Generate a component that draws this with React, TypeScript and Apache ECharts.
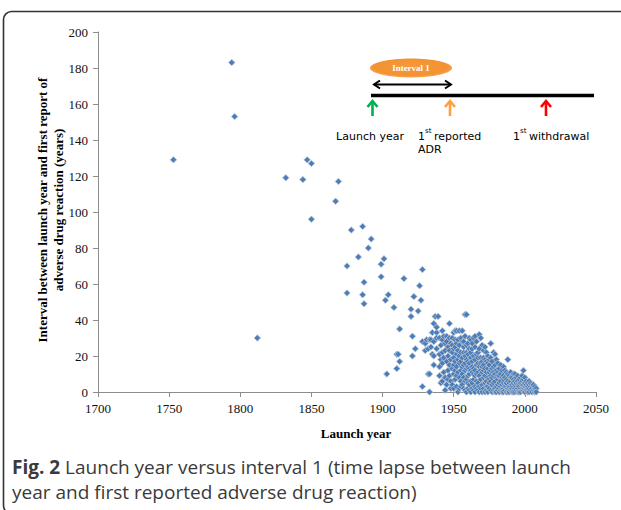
import React, { useEffect, useRef } from "react";
import * as echarts from "echarts";

// [launch year, interval (years)]
const earlyDrugs: [number, number][] = [
  [1753, 129], [1794, 183], [1796, 153], [1812, 30], [1832, 119], [1844, 118],
  [1847, 129], [1850, 127], [1850, 96], [1867, 106], [1869, 117], [1875, 70],
  [1875, 55], [1878, 90], [1883, 75], [1886, 92], [1886, 54], [1887, 61],
  [1887, 49], [1890, 80], [1892, 85], [1899, 71], [1899, 64],
];

const midDrugs: [number, number][] = [
  [1901, 74], [1902, 51], [1903, 10], [1904, 54], [1908, 47], [1910, 21],
  [1910, 13], [1911, 21], [1912, 35], [1912, 17], [1915, 63], [1920, 46],
  [1920, 42], [1921, 31], [1921, 20], [1922, 53], [1923, 24], [1925, 45],
  [1926, 59], [1927, 51], [1928, 68], [1928, 3], [1928, 28], [1930, 27],
  [1930, 23], [1931, 29], [1932, 24], [1932, 10], [1933, 0], [1933, 10],
  [1933, 29], [1934, 25], [1934, 29], [1935, 21], [1935, 33], [1936, 38],
  [1936, 28], [1936, 20], [1936, 15], [1937, 42], [1938, 33], [1938, 36],
  [1938, 30], [1938, 24], [1939, 42],
];

// launch year -> intervals of drugs launched that year
const modernDrugs: [number, number[]][] = [
  [1940, [21, 9, 14, 30]],
  [1941, [26, 5, 18]],
  [1942, [34, 29, 6, 16, 22]],
  [1943, [31, 11, 19]],
  [1944, [23, 8, 27, 1]],
  [1945, [31, 28, 17, 4]],
  [1946, [25, 12, 20, 7]],
  [1947, [38, 30, 15, 9, 23]],
  [1948, [27, 6, 18, 2]],
  [1949, [30, 22, 13, 4, 26]],
  [1950, [33, 19, 10, 2, 15, 24]],
  [1951, [34, 25, 17, 7, 12, 29]],
  [1952, [34, 21, 14, 3, 9, 27]],
  [1953, [29, 18, 11, 0, 23]],
  [1954, [34, 26, 16, 8, 2, 20]],
  [1955, [30, 22, 12, 6, 17, 3]],
  [1956, [34, 28, 19, 10, 4, 14]],
  [1957, [28, 22, 15, 8, 2, 25]],
  [1958, [43, 31, 20, 12, 6, 16, 1]],
  [1959, [43, 26, 18, 13, 7, 22, 0]],
  [1960, [27, 21, 14, 9, 2, 17, 5]],
  [1961, [30, 24, 16, 10, 4, 13, 1]],
  [1962, [29, 19, 12, 6, 0, 22]],
  [1963, [24, 17, 11, 2, 14, 5, 27]],
  [1964, [30, 20, 13, 7, 1, 10]],
  [1965, [31, 25, 18, 9, 3, 12, 0]],
  [1966, [28, 21, 15, 10, 2, 6]],
  [1967, [22, 16, 11, 5, 1, 19]],
  [1968, [32, 24, 14, 9, 3, 0]],
  [1969, [30, 19, 12, 7, 2, 16]],
  [1970, [26, 17, 11, 4, 14, 0]],
  [1971, [23, 15, 8, 2, 12, 19]],
  [1972, [25, 18, 9, 5, 0, 13]],
  [1973, [22, 17, 11, 6, 1, 3]],
  [1974, [20, 13, 8, 3, 0, 16]],
  [1975, [15, 11, 7, 2, 18, 5]],
  [1976, [27, 19, 12, 6, 1, 9]],
  [1977, [17, 13, 8, 4, 0]],
  [1978, [22, 14, 9, 5, 1, 11]],
  [1979, [21, 15, 10, 6, 2, 0]],
  [1980, [18, 12, 8, 3, 0]],
  [1981, [16, 11, 7, 4, 1, 9]],
  [1982, [13, 9, 5, 2, 0]],
  [1983, [15, 10, 6, 3, 1]],
  [1984, [12, 8, 4, 1, 0]],
  [1985, [14, 9, 5, 2, 0, 7]],
  [1986, [12, 8, 4, 1, 3]],
  [1987, [11, 7, 3, 0, 5]],
  [1988, [18, 10, 6, 2, 0]],
  [1989, [9, 5, 2, 0, 3]],
  [1990, [11, 6, 3, 1, 8]],
  [1991, [8, 4, 1, 2, 0]],
  [1992, [10, 7, 3, 0, 5]],
  [1993, [10, 6, 2, 4, 0]],
  [1994, [8, 5, 1, 3]],
  [1995, [9, 6, 2, 0, 4]],
  [1996, [7, 4, 1, 3, 0]],
  [1997, [8, 5, 2, 0]],
  [1998, [9, 6, 3, 1, 4]],
  [1999, [12, 7, 4, 1, 2]],
  [2000, [8, 5, 2, 0, 3]],
  [2001, [6, 3, 1, 4]],
  [2002, [5, 3, 1, 0]],
  [2003, [6, 4, 2, 0]],
  [2004, [5, 3, 1]],
  [2005, [4, 2, 0]],
  [2006, [3, 1, 4]],
  [2007, [3, 1, 0]],
  [2008, [2, 0]],
];

const xTitle = "Launch year";
const yTitleLines = [
  "Interval between launch year and first report of",
  "adverse drug reaction (years)",
];
const captionBold = "Fig. 2";
const captionLine1 = " Launch year versus interval 1 (time lapse between launch";
const captionLine2 = "year and first reported adverse drug reaction)";

export default function App() {
  const ref = useRef<HTMLDivElement>(null);

  useEffect(() => {
    if (!ref.current) return;
    const chart = echarts.init(ref.current, undefined, { renderer: "svg" });

    const points: [number, number][] = [...earlyDrugs, ...midDrugs];
    modernDrugs.forEach(([yr, vals]) => vals.forEach((v) => points.push([yr, v])));

    const serif = "Liberation Serif";
    const hand = "DejaVu Sans";
    const axisColor = "#8c8c8c";

    const upArrow = (x: number, color: string) => ({
      type: "group",
      children: [
        {
          type: "line",
          shape: { x1: x, y1: 116, x2: x, y2: 101 },
          style: { stroke: color, lineWidth: 2.6 },
        },
        {
          type: "polyline",
          shape: { points: [[x - 5, 107], [x, 101], [x + 5, 107]] },
          style: { stroke: color, lineWidth: 2.6, fill: null },
        },
      ],
    });

    const axisLabel = {
      fontFamily: serif,
      fontSize: 13,
      color: "#111",
      margin: 10,
      formatter: (v: number) => String(v),
    };

    chart.setOption({
      animation: false,
      backgroundColor: "#ffffff",
      grid: { left: 98, right: 25, top: 32, bottom: 118, containLabel: false },
      xAxis: {
        type: "value",
        min: 1700,
        max: 2050,
        interval: 50,
        splitLine: { show: false },
        axisLine: { show: true, onZero: false, lineStyle: { color: axisColor, width: 1 } },
        axisTick: { show: true, length: 5, lineStyle: { color: axisColor } },
        axisLabel,
      },
      yAxis: {
        type: "value",
        min: 0,
        max: 200,
        interval: 20,
        splitLine: { show: false },
        axisLine: { show: true, lineStyle: { color: axisColor, width: 1 } },
        axisTick: { show: true, length: 5, lineStyle: { color: axisColor } },
        axisLabel,
      },
      series: [
        {
          type: "scatter",
          data: points,
          symbol: "diamond",
          symbolSize: 6.5,
          itemStyle: {
            color: "#4A7EBB",
            borderColor: "#BCC3CE",
            borderWidth: 0.8,
            opacity: 1,
          },
        },
      ],
      graphic: [
        // frame
        {
          type: "rect",
          shape: { x: 3.5, y: 11.5, width: 700, height: 502, r: 8 },
          style: { fill: null, stroke: "#333", lineWidth: 1.6 },
          silent: true,
        },
        // axis titles
        {
          type: "text",
          x: 356,
          y: 433,
          style: {
            text: xTitle,
            font: `bold 13px ${serif}`,
            fill: "#000",
            align: "center",
            verticalAlign: "middle",
          },
        },
        {
          type: "text",
          x: 50,
          y: 210,
          rotation: Math.PI / 2,
          style: {
            text: yTitleLines.join("\n"),
            font: `bold 13px ${serif}`,
            lineHeight: 16,
            fill: "#000",
            align: "center",
            verticalAlign: "middle",
          },
        },
        // inset diagram
        {
          type: "ellipse",
          shape: { cx: 411, cy: 68, rx: 41, ry: 9.5 },
          style: {
            fill: {
              type: "radial",
              x: 0.5,
              y: 0.45,
              r: 0.6,
              colorStops: [
                { offset: 0, color: "#F59A3C" },
                { offset: 0.75, color: "#F39230" },
                { offset: 1, color: "#F9B878" },
              ],
            },
          },
        },
        {
          type: "text",
          x: 411,
          y: 68,
          style: {
            text: "Interval 1",
            font: `bold 9px ${serif}`,
            fill: "#fff",
            align: "center",
            verticalAlign: "middle",
          },
        },
        {
          type: "line",
          shape: { x1: 374, y1: 84.5, x2: 451, y2: 84.5 },
          style: { stroke: "#000", lineWidth: 2 },
        },
        {
          type: "polyline",
          shape: { points: [[380, 80.5], [374, 84.5], [380, 88.5]] },
          style: { stroke: "#000", lineWidth: 2, fill: null },
        },
        {
          type: "polyline",
          shape: { points: [[445, 80.5], [451, 84.5], [445, 88.5]] },
          style: { stroke: "#000", lineWidth: 2, fill: null },
        },
        {
          type: "line",
          shape: { x1: 371, y1: 95.5, x2: 594, y2: 95.5 },
          style: { stroke: "#000", lineWidth: 3.5 },
        },
        upArrow(372.5, "#00B050"),
        upArrow(450, "#FFA040"),
        upArrow(546, "#FF0000"),
        {
          type: "text",
          x: 370,
          y: 136,
          style: {
            text: "Launch year",
            font: `11px ${hand}`,
            fill: "#000",
            align: "center",
            verticalAlign: "middle",
          },
        },
        {
          type: "text",
          x: 418,
          y: 136,
          style: { text: "1", font: `11px ${hand}`, fill: "#000", verticalAlign: "middle" },
        },
        {
          type: "text",
          x: 425,
          y: 131,
          style: { text: "st", font: `7px ${hand}`, fill: "#000", verticalAlign: "middle" },
        },
        {
          type: "text",
          x: 434,
          y: 136,
          style: { text: "reported", font: `11px ${hand}`, fill: "#000", verticalAlign: "middle" },
        },
        {
          type: "text",
          x: 418,
          y: 149,
          style: { text: "ADR", font: `11px ${hand}`, fill: "#000", verticalAlign: "middle" },
        },
        {
          type: "text",
          x: 513,
          y: 136,
          style: { text: "1", font: `11px ${hand}`, fill: "#000", verticalAlign: "middle" },
        },
        {
          type: "text",
          x: 520,
          y: 131,
          style: { text: "st", font: `7px ${hand}`, fill: "#000", verticalAlign: "middle" },
        },
        {
          type: "text",
          x: 529,
          y: 136,
          style: { text: "withdrawal", font: `11px ${hand}`, fill: "#000", verticalAlign: "middle" },
        },
        // caption
        {
          type: "text",
          x: 12,
          y: 467,
          style: {
            text: `{b|${captionBold}}{n|${captionLine1}}`,
            verticalAlign: "middle",
            rich: {
              b: { font: "bold 19px Open Sans", fill: "#3a3a3a" },
              n: { font: "19px Open Sans", fill: "#3a3a3a" },
            },
          },
        },
        {
          type: "text",
          x: 12,
          y: 492,
          style: {
            text: captionLine2,
            font: "19px Open Sans",
            fill: "#3a3a3a",
            verticalAlign: "middle",
          },
        },
      ],
    });

    return () => chart.dispose();
  }, []);

  return (
    <div
      ref={ref}
      style={{ position: "fixed", left: 0, top: 0, width: 621, height: 510, background: "#fff" }}
    />
  );
}
